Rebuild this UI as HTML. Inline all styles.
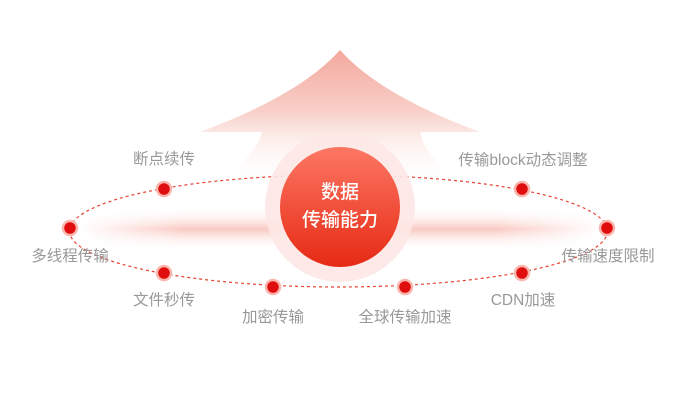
<!DOCTYPE html>
<html><head><meta charset="utf-8"><style>
body{margin:0;width:680px;height:400px;background:#fff;overflow:hidden;position:relative;font-family:"Liberation Sans","Noto Sans CJK SC",sans-serif}
.l{position:absolute;font-size:15.5px;color:#999;transform:translateX(-50%);white-space:nowrap;line-height:17px}
</style></head><body>
<svg width="680" height="400" style="position:absolute;left:0;top:0">
<defs>
<linearGradient id="ar" x1="0" y1="0" x2="0" y2="1">
<stop offset="0" stop-color="#f3a89c"/><stop offset="0.45" stop-color="#f8cfc8"/><stop offset="1" stop-color="#fff" stop-opacity="0"/></linearGradient>
<linearGradient id="band" x1="0" y1="0" x2="0" y2="1">
<stop offset="0" stop-color="#fff" stop-opacity="0"/><stop offset="0.5" stop-color="#f9c9c2"/><stop offset="1" stop-color="#fff" stop-opacity="0"/></linearGradient>
<linearGradient id="bandh" x1="0" y1="0" x2="1" y2="0">
<stop offset="0" stop-color="#000"/><stop offset="0.2" stop-color="#fff"/><stop offset="0.8" stop-color="#fff"/><stop offset="1" stop-color="#000"/></linearGradient>
<mask id="m"><rect x="80" y="205" width="520" height="48" fill="url(#bandh)"/></mask>
<linearGradient id="c" x1="0" y1="0" x2="0" y2="1">
<stop offset="0" stop-color="#fd7763"/><stop offset="1" stop-color="#e62a14"/></linearGradient>
</defs>
<path d="M340,50 Q380,95 480,132 L420,132 Q425,160 470,185 L210,185 Q255,160 262,132 L200,132 Q300,95 340,50Z" fill="url(#ar)"/>
<rect x="80" y="207" width="520" height="44" fill="url(#band)" mask="url(#m)"/>
<ellipse cx="338.5" cy="231" rx="269" ry="56" fill="none" stroke="#e8412f" stroke-width="1.2" stroke-dasharray="3,3"/>
<circle cx="340" cy="207" r="75" fill="#fde8e5" opacity="0.9"/>
<circle cx="340" cy="207" r="60" fill="url(#c)"/>
<text x="340" y="198" fill="#fff" font-size="19" text-anchor="middle" font-family="Liberation Sans,Noto Sans CJK SC,sans-serif" font-weight="500">数据</text>
<text x="340" y="226" fill="#fff" font-size="19" text-anchor="middle" font-family="Liberation Sans,Noto Sans CJK SC,sans-serif" font-weight="500">传输能力</text>
<g fill="#df0d0d" stroke="#fbb6ae" stroke-width="2.5">
<circle cx="164" cy="189" r="7"/><circle cx="522" cy="189" r="7"/>
<circle cx="70" cy="228" r="7"/><circle cx="607" cy="228" r="7"/>
<circle cx="164" cy="273" r="7"/><circle cx="522" cy="273" r="7"/>
<circle cx="273" cy="287" r="7"/><circle cx="405" cy="287" r="7"/>
</g>
</svg>
<div class="l" style="left:164px;top:151px">断点续传</div>
<div class="l" style="left:523px;top:152px">传输block动态调整</div>
<div class="l" style="left:70px;top:248px">多线程传输</div>
<div class="l" style="left:608px;top:248px">传输速度限制</div>
<div class="l" style="left:164px;top:292px">文件秒传</div>
<div class="l" style="left:523px;top:292px">CDN加速</div>
<div class="l" style="left:273px;top:309px">加密传输</div>
<div class="l" style="left:405px;top:309px">全球传输加速</div>
</body></html>
